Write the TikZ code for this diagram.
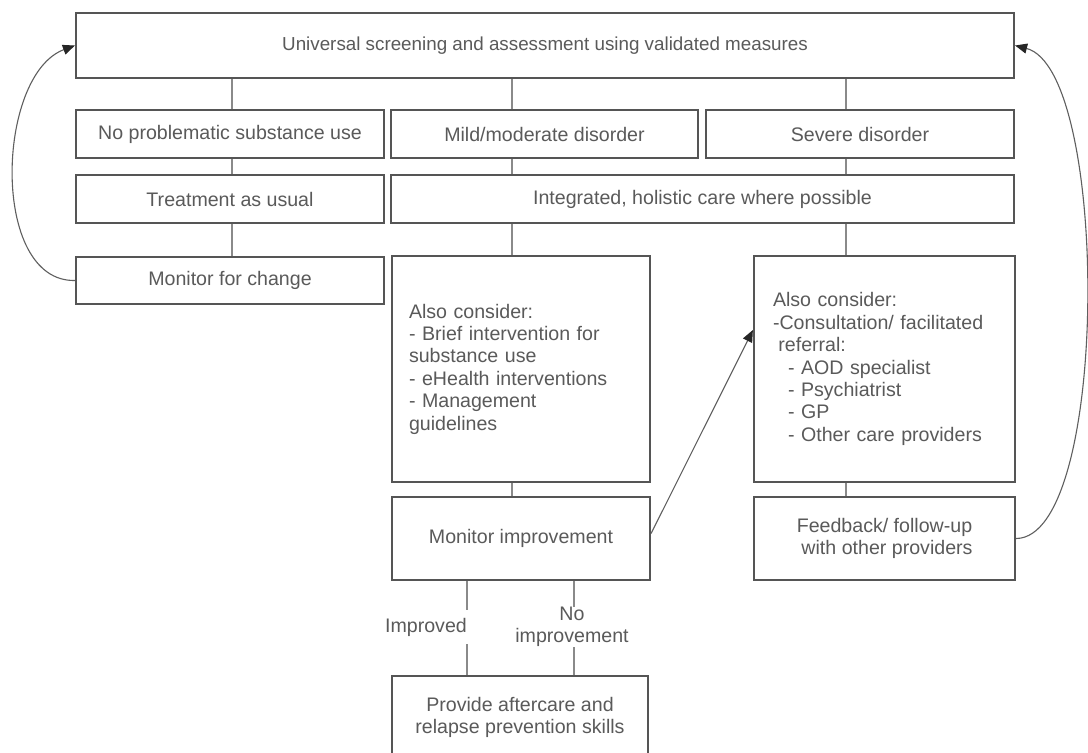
\documentclass[tikz,border=0pt]{standalone}
\usepackage{fontspec}
\setmainfont{Liberation Sans}
\usetikzlibrary{arrows.meta,calc}
\definecolor{boxc}{HTML}{555555}
\definecolor{linec}{HTML}{8A8A8A}
\definecolor{txtc}{HTML}{5A5A5A}
\definecolor{arrc}{HTML}{5F5F5F}
\definecolor{tipc}{HTML}{262626}
\begin{document}
\begin{tikzpicture}[x=1pt,y=-1pt,
  every node/.style={font=\fontsize{19.6}{22.4}\selectfont, text=txtc},
  box/.style={draw=boxc, line width=2.2pt, fill=white, rectangle, inner sep=0pt, anchor=center},
  conn/.style={draw=linec, line width=1.6pt},
  loop/.style={draw=arrc, line width=1.1pt, -{Triangle[length=12pt,width=10pt,color=tipc]}},
  lbl/.style={fill=white, inner xsep=1pt, inner ysep=1pt, align=center}]
\useasboundingbox (0,0) rectangle (1088,753);
\fill[white] (0,0) rectangle (1088,753);
\coordinate (cL) at (232,0);
\coordinate (cM) at (512,0);
\coordinate (cR) at (846,0);
\coordinate (cI) at (467,0);
\coordinate (cN) at (574,0);
% nodes
\node[box, minimum width=938pt, minimum height=65pt] (top) at (545,45.5) {\fontsize{18.8}{22.4}\selectfont Universal screening and assessment using validated measures};
\node[box, minimum width=308pt, minimum height=48pt] (nop) at (230,134) {No problematic substance use};
\node[box, minimum width=307pt, minimum height=48pt] (mild) at (544.5,134) {Mild/moderate disorder};
\node[box, minimum width=308pt, minimum height=48pt] (sev) at (860,134) {Severe disorder};
\node[box, minimum width=308pt, minimum height=48pt] (tau) at (230,199) {Treatment as usual};
\node[box, minimum width=623pt, minimum height=48pt] (integ) at (702.5,199) {Integrated, holistic care where possible};
\node[box, minimum width=308pt, minimum height=47pt] (mfc) at (230,280.5) {Monitor for change};
\node[box, minimum width=258pt, minimum height=226pt, inner xsep=17pt, text width=224pt, align=left] (acm) at (521,369)
  {Also consider:\\- Brief intervention for\\substance use\\- eHealth interventions\\- Management\\guidelines};
\node[box, minimum width=261pt, minimum height=226pt, inner xsep=19pt, text width=223pt, align=left] (acs) at (884.5,369)
  {Also consider:\\-Consultation/ facilitated\\\hspace*{5.4pt}referral:\\\hspace*{15pt}- AOD specialist\\\hspace*{15pt}- Psychiatrist\\\hspace*{15pt}- GP\\\hspace*{15pt}- Other care providers};
\node[box, minimum width=258pt, minimum height=83pt] (mi) at (521,538.5) {Monitor improvement};
\node[box, minimum width=261pt, minimum height=83pt, align=center] (fb) at (884.5,538.5) {Feedback/ follow-up\\\hspace*{5pt}with other providers};
\node[box, minimum width=256pt, minimum height=83pt, align=center] (pa) at (520,717.5) {Provide aftercare and\\relapse prevention skills};
% connectors
\draw[conn] (top.south -| cL) -- (nop.north -| cL);
\draw[conn] (top.south -| cM) -- (mild.north -| cM);
\draw[conn] (top.south -| cR) -- (sev.north -| cR);
\draw[conn] (nop.south -| cL) -- (tau.north -| cL);
\draw[conn] (mild.south -| cM) -- (integ.north -| cM);
\draw[conn] (sev.south -| cR) -- (integ.north -| cR);
\draw[conn] (tau.south -| cL) -- (mfc.north -| cL);
\draw[conn] (integ.south -| cM) -- (acm.north -| cM);
\draw[conn] (integ.south -| cR) -- (acs.north -| cR);
\draw[conn] (acm.south -| cM) -- (mi.north -| cM);
\draw[conn] (acs.south -| cR) -- (fb.north -| cR);
\draw[conn] (mi.south -| cI) -- (pa.north -| cI);
\draw[conn] (mi.south -| cN) -- (pa.north -| cN);
\node[lbl, minimum height=34pt] (limp) at (426,627) {Improved};
\node[lbl, inner ysep=0pt] (lno) at (572,627) {No\\improvement};
% arrows
\draw[loop] (mfc.west) .. controls (-10,282) and (-4,75) .. (top.west);
\draw[loop] (fb.east) .. controls (1110,538) and (1110,70) .. (top.east);
\draw[loop] ([yshift=5pt]mi.east) -- ([yshift=39pt]acs.west);
\end{tikzpicture}
\end{document}
